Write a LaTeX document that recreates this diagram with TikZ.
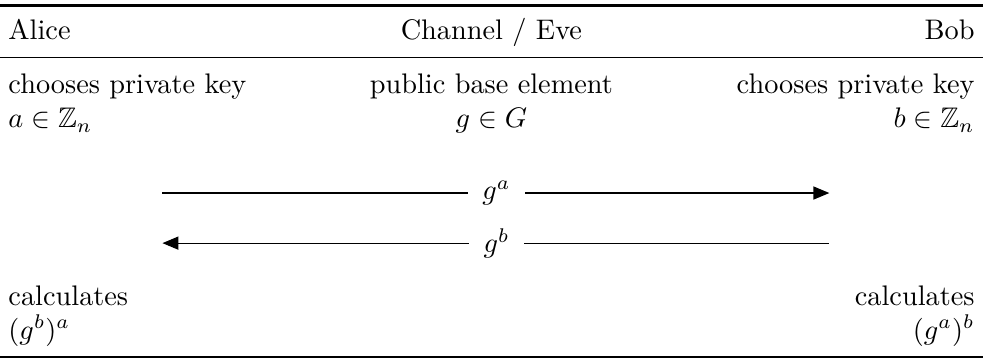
\documentclass[tikz,border=0pt]{standalone}
\usepackage{amssymb}
\usetikzlibrary{arrows.meta}
\tikzset{
	txt/.style={inner sep=0pt},
	heavyrule/.style={line width=0.8pt},
	lightrule/.style={line width=0.5pt},
	msg/.style={fill=white,inner xsep=5pt,inner ysep=1pt},
	tip/.style={-{Triangle[length=5.6pt,width=4.6pt]}}
}
\begin{document}
\begin{tikzpicture}
				\useasboundingbox (0,0) rectangle (347.3pt,128.3pt);
				% rules
				\draw[heavyrule] (0,126.4pt)--(347.3pt,126.4pt);
				\draw[lightrule] (0,108pt)--(347.3pt,108pt);
				\draw[heavyrule] (0,2.2pt)--(347.3pt,2.2pt);
				% header
				\node[txt,anchor=base west] (alice) at (2.8pt,114.2pt) {Alice};
				\node[txt,anchor=base] (eve) at (173.6pt,114.2pt) {Channel / Eve};
				\node[txt,anchor=base east] (bob) at (344.5pt,114.2pt) {Bob};
				% keys
				\node[txt,anchor=base west] (A1) at (2.8pt,95.1pt) {chooses private key};
				\node[txt,anchor=base west] (A2) at (2.8pt,83.1pt) {$a\in\mathbb{Z}_n$};
				\node[txt,anchor=base] (E1) at (173.6pt,95.1pt) {public base element};
				\node[txt,anchor=base] (E2) at (173.6pt,83.1pt) {$g\in G$};
				\node[txt,anchor=base east] (B1) at (344.5pt,95.1pt) {chooses private key};
				\node[txt,anchor=base east] (B2) at (344.5pt,83.1pt) {$b\in\mathbb{Z}_n$};
				% messages
				\coordinate (AliceA) at (57.4pt,60.1pt);
				\coordinate (BobA) at (293pt,60.1pt);
				\coordinate (AliceB) at (57.4pt,42.4pt);
				\coordinate (BobB) at (293pt,42.4pt);
				\node[msg] (ga) at (175.4pt,60.1pt) {$g^a$};
				\node[msg] (gb) at (175.4pt,42.4pt) {$g^b$};
				\draw (AliceA)--(ga);
				\draw[tip] (ga)--(BobA);
				\draw[tip] (gb)--(AliceB);
				\draw (gb)--(BobB);
				% results
				\node[txt,anchor=base west] (A3) at (2.8pt,20.5pt) {calculates};
				\node[txt,anchor=base west] (A4) at (2.8pt,8.5pt) {$(g^b)^a$};
				\node[txt,anchor=base east] (B3) at (344.5pt,20.5pt) {calculates};
				\node[txt,anchor=base east] (B4) at (344.5pt,8.5pt) {$(g^a)^b$};
			\end{tikzpicture}
\end{document}
